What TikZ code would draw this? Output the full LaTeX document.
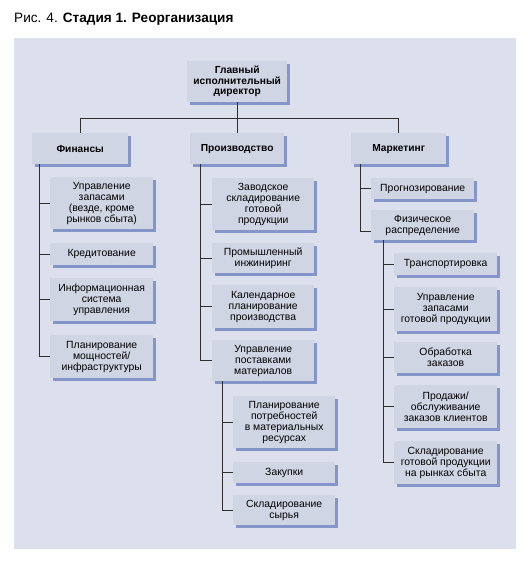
\documentclass[tikz,border=0pt]{standalone}
\usepackage{fontspec}
\setmainfont{Liberation Sans}
\usetikzlibrary{shadows}
\definecolor{panel}{HTML}{DCDFEC}
\definecolor{boxfill}{HTML}{D0D5E4}
\definecolor{shadowblue}{HTML}{8495CA}
\definecolor{linec}{HTML}{2E2E2E}
\tikzset{
  box/.style={anchor=north west, fill=boxfill, inner sep=0pt, align=center,
    font=\fontsize{10.4}{11}\selectfont,
    drop shadow={shadow xshift=3pt, shadow yshift=-2.5pt, fill=shadowblue, opacity=1}},
  headbox/.style={box, font=\fontsize{10.2}{10.5}\selectfont\bfseries},
  conn/.style={draw=linec, line width=0.9pt}
}
\begin{document}
\begin{tikzpicture}[x=1pt,y=-1pt]
\useasboundingbox (0,0) rectangle (527,561);
\fill[white] (0,0) rectangle (527,561);
\fill[panel] (14,38) rectangle (516,549);
\node[anchor=base west, inner sep=0pt, font=\fontsize{13.6}{15}\selectfont] (title) at (14,23) {Рис. 4. \textbf{Стадия 1. Реорганизация}};
% top
\node[headbox, minimum width=100pt, minimum height=41pt] (ceo) at (187,61) {Главный\\исполнительный\\директор};
\node[headbox, minimum width=96pt, minimum height=31pt] (fin) at (32,133) {Финансы};
\node[headbox, minimum width=94pt, minimum height=31pt] (prod) at (190,133) {Производство};
\node[headbox, minimum width=95pt, minimum height=31pt] (mkt) at (351,133) {Маркетинг};
% finance children
\node[box, minimum width=103pt, minimum height=52pt] (f1) at (50,177) {Управление\\запасами\\(везде, кроме\\рынков сбыта)};
\node[box, minimum width=103pt, minimum height=22pt] (f2) at (50,243) {Кредитование};
\node[box, minimum width=103pt, minimum height=43pt] (f3) at (50,278) {Информационная\\система\\управления};
\node[box, minimum width=103pt, minimum height=43pt] (f4) at (50,335) {Планирование\\мощностей/\\инфраструктуры};
% production children
\node[box, minimum width=102pt, minimum height=52pt] (p1) at (212,178) {Заводское\\складирование\\готовой\\продукции};
\node[box, minimum width=102pt, minimum height=30pt] (p2) at (212,243) {Промышленный\\инжиниринг};
\node[box, minimum width=102pt, minimum height=43pt] (p3) at (212,285) {Календарное\\планирование\\производства};
\node[box, minimum width=102pt, minimum height=41pt] (p4) at (212,340) {Управление\\поставками\\материалов};
\node[box, minimum width=102pt, minimum height=52pt] (s1) at (233,396) {Планирование\\потребностей\\в материальных\\ресурсах};
\node[box, minimum width=102pt, minimum height=21pt] (s2) at (233,462) {Закупки};
\node[box, minimum width=102pt, minimum height=30pt] (s3) at (233,495) {Складирование\\сырья};
% marketing children
\node[box, minimum width=103pt, minimum height=21pt] (m1) at (371,178) {Прогнозирование};
\node[box, minimum width=103pt, minimum height=30pt] (m2) at (371,210) {Физическое\\распределение};
\node[box, minimum width=103pt, minimum height=22pt] (d1) at (394,253) {Транспортировка};
\node[box, minimum width=103pt, minimum height=44pt] (d2) at (394,287) {Управление\\запасами\\готовой продукции};
\node[box, minimum width=103pt, minimum height=31pt] (d3) at (394,342) {Обработка\\заказов};
\node[box, minimum width=103pt, minimum height=43pt] (d4) at (394,385) {Продажи/\\обслуживание\\заказов клиентов};
\node[box, minimum width=103pt, minimum height=43pt] (d5) at (394,441) {Складирование\\готовой продукции\\на рынках сбыта};
% connectors
\coordinate (hb) at ([yshift=-16pt]ceo.south);
\draw[conn] (ceo.south) -- (hb);
\draw[conn] (fin.north) |- (hb) -| (mkt.north);
\draw[conn] (prod.north) -- (prod.north |- hb);
\coordinate (fs) at ([xshift=7pt]fin.south west);
\draw[conn] (fs) |- (f4.west);
\foreach \c in {f1,f2,f3} \draw[conn] (\c.west) -- (\c.west -| fs);
\coordinate (ps) at ([xshift=10pt]prod.south west);
\draw[conn] (ps) |- (p4.west);
\foreach \c in {p1,p2,p3} \draw[conn] (\c.west) -- (\c.west -| ps);
\coordinate (ss) at ([xshift=10pt]p4.south west);
\draw[conn] (ss) |- (s3.west);
\foreach \c in {s1,s2} \draw[conn] (\c.west) -- (\c.west -| ss);
\coordinate (ms) at ([xshift=9pt]mkt.south west);
\draw[conn] (ms) |- ([yshift=-6pt]m2.west);
\draw[conn] (m1.west) -- (m1.west -| ms);
\coordinate (ds) at ([xshift=12pt]m2.south west);
\draw[conn] (ds) |- (d5.west);
\foreach \c in {d1,d2,d3,d4} \draw[conn] (\c.west) -- (\c.west -| ds);
\end{tikzpicture}
\end{document}
